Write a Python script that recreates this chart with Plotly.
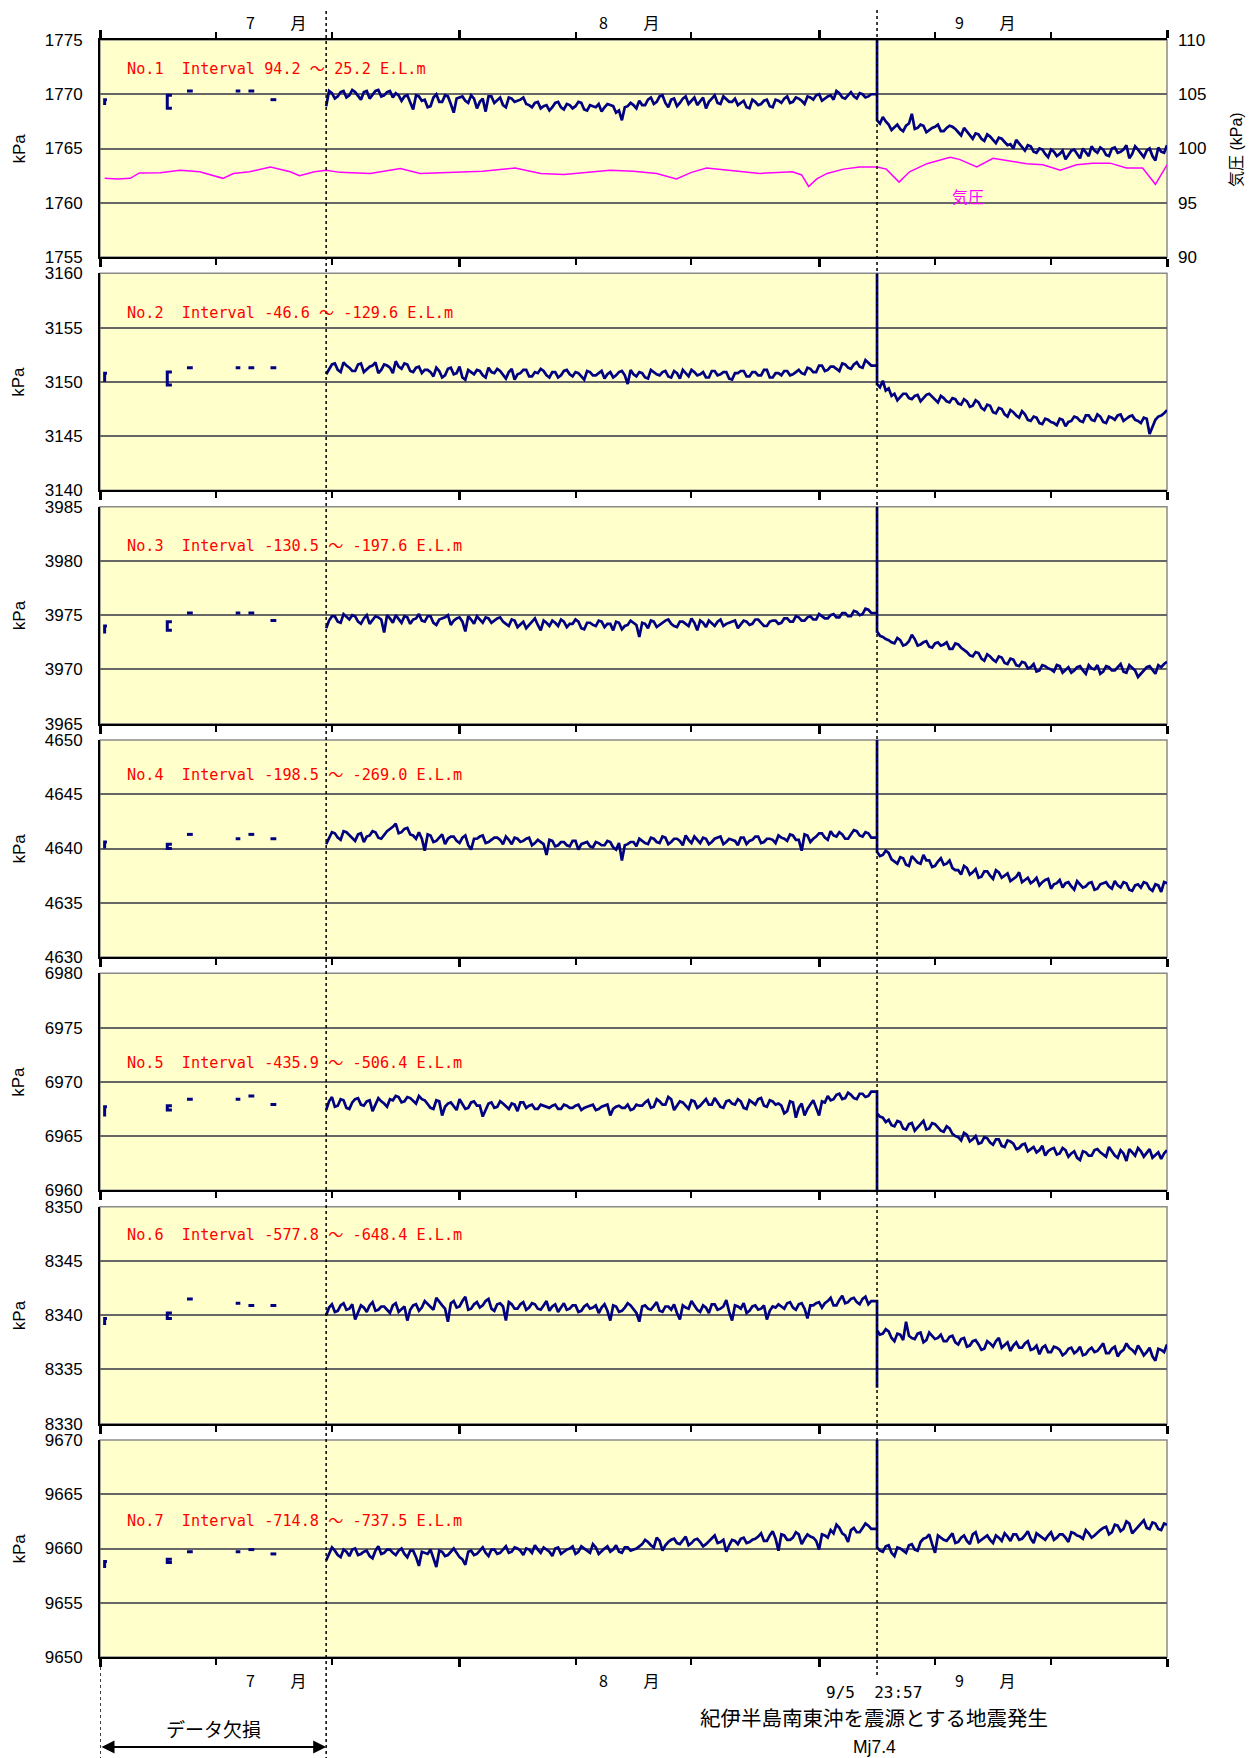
import numpy as np
import pandas as pd
import plotly.graph_objects as go

# ---------------- data ----------------
BASE = pd.Timestamp("2004-07-01")
X_END = "2004-10-01"
GAP_END_DAY = 19.5          # end of missing-data period (days after Jul 1)
QUAKE_DAY = 66.998          # 9/5 23:57
CONT_START, PRE_END = 19.5, 66.5
POST_START, POST_END = 67.0, 92.0
MID_SHIFT = 0.25            # intermediate readings lie between the half-day readings

Y_LO = [1755, 3140, 3965, 4630, 6960, 8330, 9650]
LABELS = [
    "No.1\u00a0\u00a0Interval 94.2 ～ 25.2 E.L.m",
    "No.2\u00a0\u00a0Interval -46.6 ～ -129.6 E.L.m",
    "No.3\u00a0\u00a0Interval -130.5 ～ -197.6 E.L.m",
    "No.4\u00a0\u00a0Interval -198.5 ～ -269.0 E.L.m",
    "No.5\u00a0\u00a0Interval -435.9 ～ -506.4 E.L.m",
    "No.6\u00a0\u00a0Interval -577.8 ～ -648.4 E.L.m",
    "No.7\u00a0\u00a0Interval -714.8 ～ -737.5 E.L.m",
]
LABEL_Y = [1772.3, 3156.3, 3981.4, 4646.8, 6971.7, 8347.4, 9662.5]
SPIKE = [1775, 3160, 3985, 4650, 6960, 8333.3, 9670]

# early isolated records: r-mark (lo, hi), bracket (top, bottom), four short dashes
EARLY = [
    [1769.0, 1769.5, 1769.9, 1768.7, 1770.3, 1770.3, 1770.3, 1769.5],
    [3150.0, 3150.8, 3150.9, 3149.7, 3151.3, 3151.3, 3151.3, 3151.3],
    [3973.3, 3974.0, 3974.4, 3973.6, 3975.2, 3975.2, 3975.2, 3974.5],
    [4640.0, 4640.6, 4640.4, 4640.0, 4641.3, 4640.9, 4641.3, 4640.9],
    [6966.8, 6967.7, 6967.8, 6967.4, 6968.4, 6968.4, 6968.7, 6967.9],
    [8339.1, 8339.7, 8340.2, 8339.7, 8341.5, 8341.1, 8340.9, 8340.9],
    [9658.2, 9658.8, 9659.0, 9658.7, 9659.7, 9659.7, 9659.9, 9659.5],
]
EARLY_R_DAYS = (0.4, 0.6)
EARLY_BR_DAYS = (5.8, 6.2)
EARLY_DASH_DAYS = [(7.5, 8.0), (11.7, 12.1), (12.8, 13.3), (14.7, 15.2)]

# ---- No.1 ----
pre1 = [1768.9, 1770.1, 1769.8, 1770.3, 1769.9, 1770.2, 1769.5, 1770.3, 1770.0, 1770.4, 1769.9, 1770.3, 1770.1,
        1769.4, 1769.9, 1768.6, 1769.8, 1769.5, 1768.9, 1770.0, 1769.3, 1769.8, 1768.3, 1769.7, 1769.4, 1769.9,
        1768.7, 1769.6, 1769.8, 1769.2, 1769.7, 1768.8, 1769.6, 1769.4, 1769.7,
        1769.0, 1769.2, 1768.7, 1769.0, 1768.8, 1769.3, 1768.6, 1769.0, 1768.9, 1769.2, 1768.5, 1768.9, 1769.1,
        1768.8, 1769.0, 1768.3, 1767.6, 1768.9, 1769.0,
        1769.4, 1769.0, 1769.7, 1769.3, 1769.9, 1768.8, 1769.6, 1769.2, 1769.8, 1769.4, 1769.0, 1769.7, 1769.3,
        1769.9, 1769.1, 1769.5, 1769.3,
        1769.0, 1769.4, 1768.7, 1769.3, 1769.1, 1769.5, 1768.8, 1769.4, 1769.6, 1769.2, 1769.7, 1769.4, 1769.8,
        1769.5, 1770.0, 1769.6, 1769.9, 1770.3, 1769.7, 1769.9, 1769.8, 1770.1, 1769.7, 1770.0]
mid1 = [1770.3, 1769.6, 1770.2, 1769.7, 1770.4, 1769.8, 1770.2, 1769.6, 1770.3, 1769.8, 1770.2, 1769.7, 1769.9,
        1769.8, 1769.2, 1769.9, 1769.4, 1768.8, 1769.7, 1769.3, 1769.9, 1769.1, 1769.6, 1769.8, 1769.2, 1769.6,
        1769.3, 1768.4, 1769.8, 1769.5, 1769.0, 1769.7, 1769.3, 1769.5, 1769.1,
        1768.8, 1769.3, 1768.9, 1768.5, 1769.2, 1768.8, 1769.1, 1768.7, 1769.3, 1768.6, 1769.0, 1768.8, 1768.4,
        1769.1, 1768.9, 1768.5, 1768.8, 1769.2, 1768.7,
        1769.0, 1769.5, 1769.1, 1769.8, 1769.2, 1769.5, 1768.9, 1769.6, 1769.1, 1769.7, 1769.3, 1768.7, 1769.6,
        1769.2, 1769.8, 1769.3, 1769.6,
        1769.2, 1768.8, 1769.5, 1769.0, 1769.4, 1768.9, 1769.5, 1769.2, 1769.8, 1769.3, 1769.6, 1769.1, 1769.7,
        1769.9, 1769.4, 1769.8, 1769.5, 1770.1, 1769.6, 1770.2, 1769.6, 1770.0, 1769.8]
post1 = [1767.6, 1767.9, 1767.2, 1767.0, 1766.8, 1767.1, 1768.2, 1766.9, 1767.1, 1766.7, 1767.0, 1766.6, 1766.9,
         1767.0, 1766.5, 1766.9, 1766.2, 1766.4, 1765.9, 1766.3, 1765.8, 1766.0, 1765.6, 1765.4, 1765.8, 1765.1,
         1765.3, 1764.7, 1765.0, 1764.5, 1764.9, 1764.3, 1764.8, 1764.4, 1764.9, 1764.1, 1764.7, 1765.2, 1764.6,
         1764.9, 1764.3, 1765.1, 1764.7, 1765.3, 1764.5, 1764.9, 1764.2, 1765.0, 1763.9, 1764.7, 1765.3]
midp1 = [1767.3, 1767.5, 1766.7, 1767.2, 1766.6, 1767.3, 1766.8, 1767.2, 1766.5, 1766.9, 1767.2, 1766.6, 1767.1,
         1766.8, 1766.2, 1766.6, 1765.9, 1766.3, 1765.7, 1766.1, 1765.5, 1765.9, 1765.3, 1765.0, 1765.5, 1764.8,
         1765.2, 1764.6, 1764.9, 1764.2, 1764.7, 1764.5, 1764.0, 1764.8, 1764.5, 1765.0, 1764.3, 1764.8, 1765.1,
         1764.4, 1765.0, 1764.6, 1764.9, 1764.1, 1765.2, 1764.6, 1764.8, 1764.3, 1765.1, 1764.6]

# ---- No.2 ----
pre2 = [3150.7, 3151.6, 3151.1, 3151.8, 3151.3, 3151.0, 3151.7, 3151.2, 3151.5, 3150.8, 3151.6, 3151.3, 3151.9,
        3151.2, 3151.6, 3150.9, 3151.4, 3151.1,
        3150.9, 3151.3, 3150.4, 3151.2, 3150.7, 3151.4, 3150.2, 3150.9, 3151.1, 3150.6,
        3151.3, 3150.8, 3151.0, 3150.3, 3151.2, 3150.7, 3151.1, 3150.5, 3150.9, 3151.2,
        3150.6, 3150.9, 3150.4, 3151.0, 3150.7, 3150.9, 3150.5, 3151.0, 3150.6, 3150.8,
        3150.3, 3150.9, 3150.6, 3151.0, 3149.8, 3150.7, 3150.9, 3150.4, 3151.1, 3150.7,
        3150.9, 3150.5, 3151.0, 3150.3, 3150.8, 3151.1, 3150.6, 3150.9, 3150.4, 3151.0,
        3150.7, 3150.9, 3150.2, 3150.8, 3151.0, 3150.5, 3150.9, 3150.6, 3151.1, 3150.4,
        3150.8, 3151.0, 3150.6, 3150.9,
        3150.8, 3151.3, 3150.9, 3151.5, 3151.0, 3151.4, 3151.2, 3151.7, 3151.3, 3151.6, 3151.4, 3152.0, 3151.5]
mid2 = [3151.2, 3151.7, 3150.9, 3151.5, 3151.0, 3151.6, 3150.9, 3151.4, 3151.8, 3151.1, 3151.5, 3150.8, 3151.4,
        3151.7, 3151.0, 3151.3, 3150.8,
        3151.1, 3150.5, 3151.0, 3150.6, 3151.3, 3150.8, 3150.4, 3151.1, 3150.7, 3151.0,
        3150.4, 3150.9, 3151.2, 3150.6, 3150.9, 3150.2, 3150.8, 3151.1, 3150.5, 3150.8,
        3151.0, 3150.4, 3150.9, 3150.6, 3151.1, 3150.5, 3150.8, 3150.2, 3150.9, 3150.6,
        3151.0, 3150.7, 3150.4, 3150.9, 3150.6, 3151.1, 3150.5, 3150.8, 3150.3, 3150.9,
        3150.6, 3151.0, 3150.4, 3150.8, 3151.1, 3150.5, 3150.9, 3150.7,
        3150.4, 3151.0, 3150.6, 3150.9, 3150.3, 3150.8, 3151.0, 3150.5, 3150.9, 3150.6, 3151.1, 3150.4, 3150.8,
        3150.6, 3151.0, 3150.7,
        3151.1, 3150.7, 3151.2, 3150.9, 3151.5, 3151.1, 3151.4, 3151.0, 3151.6, 3151.2, 3151.8, 3151.3, 3151.7]
post2 = [3149.8, 3150.1, 3149.4, 3148.9, 3148.6, 3148.9, 3148.4, 3148.8, 3148.5, 3148.9,
         3148.3, 3148.7, 3148.2, 3148.5, 3148.0, 3148.4, 3147.7, 3148.3, 3147.6, 3147.9,
         3147.2, 3147.6, 3147.0, 3147.4, 3146.9, 3147.3, 3146.5, 3146.8, 3146.2, 3146.6,
         3146.3, 3146.0, 3146.5, 3146.3, 3146.8, 3146.4, 3146.9, 3146.5, 3147.0, 3146.3,
         3146.8, 3146.5, 3147.0, 3146.6, 3146.9, 3146.4, 3146.7, 3145.2, 3146.5, 3146.9, 3147.4]
midp2 = [3149.5, 3149.2, 3148.7, 3148.3, 3148.9, 3148.5, 3148.7, 3148.2, 3148.8, 3148.6, 3148.1, 3148.5, 3148.1,
         3148.4, 3147.9, 3148.2, 3147.8, 3148.1, 3147.4, 3147.8, 3147.1, 3147.5, 3146.8, 3147.2, 3146.7, 3147.0,
         3146.4, 3146.7, 3146.1, 3146.5, 3146.2, 3146.6, 3145.9, 3146.4, 3146.7, 3146.3, 3146.9, 3146.4, 3146.8,
         3146.2, 3146.7, 3146.9, 3146.4, 3146.8, 3146.5, 3146.2, 3146.6, 3145.9, 3146.8, 3147.1]

# ---- No.3 ----
pre3 = [3973.8, 3974.9, 3974.4, 3975.1, 3974.6, 3974.9, 3974.2, 3975.0, 3974.5, 3974.8, 3973.4, 3974.7, 3975.0,
        3974.3, 3974.8, 3974.6, 3975.1, 3974.4, 3974.9, 3974.1, 3974.7, 3975.0, 3974.5, 3974.8, 3973.5, 3974.6,
        3974.9, 3974.3, 3974.7, 3974.5, 3974.8,
        3974.2, 3974.6, 3973.9, 3974.4, 3974.1, 3974.7, 3973.6, 3974.3, 3974.5, 3974.0, 3974.4, 3974.2, 3974.6,
        3973.8, 3974.3, 3974.1, 3974.5, 3973.9, 3974.2, 3974.4, 3973.7, 3974.1, 3974.3, 3973.0, 3974.2, 3974.5,
        3973.9, 3974.3, 3974.6, 3974.0, 3974.4, 3974.2, 3974.7, 3973.6, 3974.3, 3974.5, 3974.0, 3974.6, 3974.2,
        3974.4, 3973.8, 3974.5, 3974.1, 3974.6, 3974.3, 3974.0, 3974.5,
        3974.2, 3974.7, 3974.4, 3974.9, 3974.5, 3974.8, 3974.6, 3975.1, 3974.7, 3975.0, 3974.8, 3975.2, 3974.9,
        3975.4, 3975.0, 3975.6, 3975.2]
mid3 = [3974.5, 3974.9, 3974.3, 3974.8, 3975.0, 3974.4, 3974.7, 3974.2, 3974.9, 3974.6, 3975.0, 3974.3, 3974.6,
        3974.9, 3974.2, 3974.7, 3974.5, 3974.9, 3974.3, 3974.6, 3974.8, 3974.1, 3974.7, 3974.4, 3974.9, 3974.2,
        3974.6, 3974.8, 3974.3, 3974.7, 3974.4,
        3974.0, 3974.5, 3974.2, 3973.8, 3974.4, 3974.1, 3974.5, 3974.0, 3974.3, 3974.6, 3973.9, 3974.2, 3974.4,
        3973.7, 3974.3, 3974.0, 3974.4, 3974.2, 3973.6, 3974.3, 3974.0, 3974.5, 3974.1, 3974.3, 3973.8, 3974.4,
        3974.1, 3974.5, 3974.2, 3973.9, 3974.4, 3974.0, 3974.3, 3974.5, 3973.9, 3974.2, 3974.4, 3974.0, 3974.3,
        3974.5, 3974.1, 3974.4, 3974.2, 3974.6, 3974.0, 3974.4,
        3974.5, 3974.3, 3974.7, 3974.4, 3974.8, 3974.5, 3974.9, 3974.6, 3974.9, 3974.7, 3975.1, 3974.8, 3975.2,
        3974.9, 3975.3, 3975.1, 3975.5]
post3 = [3973.5, 3973.0, 3972.7, 3972.4, 3972.7, 3972.3, 3973.2, 3972.2, 3972.5, 3972.1, 3972.4, 3972.2, 3972.5,
         3971.9, 3972.3, 3971.8, 3971.3, 3971.6, 3971.0, 3971.4, 3970.9, 3971.2, 3970.6, 3971.0, 3970.4, 3970.7,
         3970.1, 3970.5, 3969.9, 3970.3, 3970.0, 3970.4, 3969.7, 3970.2, 3969.9, 3970.3, 3969.6, 3970.1, 3970.4,
         3969.8, 3970.2, 3969.9, 3970.5, 3969.7, 3970.1, 3969.3, 3970.0, 3970.3, 3969.6, 3970.2, 3970.7]
midp3 = [3973.1, 3972.8, 3972.5, 3972.9, 3972.2, 3972.6, 3972.8, 3972.3, 3972.6, 3972.0, 3972.5, 3972.3, 3971.9,
         3972.4, 3972.0, 3971.6, 3971.2, 3971.5, 3970.8, 3971.2, 3970.7, 3971.1, 3970.5, 3970.9, 3970.3, 3970.6,
         3970.2, 3969.8, 3970.4, 3970.1, 3969.8, 3970.3, 3970.0, 3969.7, 3970.2, 3969.9, 3970.4, 3970.0, 3969.6,
         3970.3, 3969.9, 3970.2, 3969.8, 3970.4, 3969.9, 3969.6, 3970.2, 3969.9, 3970.4, 3970.5]

# ---- No.4 ----
pre4 = [4640.4, 4641.5, 4641.0, 4641.6, 4641.2, 4640.7, 4641.4, 4641.1, 4641.6, 4641.0,
        4641.3, 4641.8, 4642.3, 4641.5, 4641.9, 4641.2,
        4641.5, 4639.8, 4641.2, 4640.7, 4641.3, 4640.9, 4641.1, 4640.5, 4641.2, 4639.9, 4640.9, 4641.2, 4640.6,
        4641.0, 4640.8, 4641.1, 4640.4, 4640.9, 4640.7, 4641.0, 4640.5,
        4640.6, 4639.4, 4640.7, 4640.3, 4640.6, 4640.2, 4640.7, 4640.4, 4640.6, 4640.1, 4640.5, 4640.3, 4640.6,
        4639.9, 4638.9, 4640.4, 4640.6, 4640.9, 4640.5, 4641.0,
        4640.6, 4641.1, 4640.4, 4640.9, 4640.7, 4641.2, 4640.5, 4640.8, 4641.0, 4640.4, 4640.9, 4641.1, 4640.6,
        4640.8, 4640.3, 4641.0, 4640.7, 4641.1, 4640.5, 4640.9, 4640.8, 4641.2,
        4640.9, 4641.3, 4640.8, 4639.8, 4641.2, 4640.9, 4641.4, 4641.0, 4641.6, 4641.1, 4641.3, 4640.9, 4641.7,
        4641.2, 4641.5, 4641.0]
mid4 = [4641.0, 4641.4, 4640.8, 4641.5, 4640.9, 4641.3, 4640.6, 4641.2, 4641.5, 4640.9,
        4641.6, 4642.0, 4641.4, 4641.8, 4641.3, 4640.9,
        4640.9, 4641.3, 4640.6, 4641.0, 4640.4, 4641.1, 4640.7, 4641.0, 4640.3, 4640.9, 4641.1, 4640.5, 4640.8,
        4641.0, 4640.4, 4640.8, 4641.0, 4640.6, 4640.9, 4640.3, 4640.8,
        4640.4, 4640.8, 4640.2, 4640.6, 4640.3, 4640.7, 4639.9, 4640.5, 4640.2, 4640.6, 4640.3, 4640.7, 4640.1,
        4640.5, 4640.3, 4640.6, 4640.2, 4640.7, 4640.4,
        4640.9, 4640.5, 4641.0, 4640.6, 4640.9, 4640.3, 4640.8, 4641.1, 4640.5, 4640.9, 4640.6, 4641.0, 4640.4,
        4640.9, 4640.7, 4641.0, 4640.4, 4640.8, 4641.1, 4640.6, 4640.9, 4640.5,
        4641.0, 4640.7, 4641.2, 4640.8, 4641.3, 4640.6, 4641.1, 4641.4, 4640.8, 4641.2, 4641.5, 4640.9, 4641.3,
        4641.6, 4641.1, 4641.4]
post4 = [4639.7, 4639.4, 4639.6, 4638.8, 4639.2, 4638.5, 4639.3, 4638.7, 4639.4, 4638.9, 4638.4, 4639.1, 4638.6,
         4638.2, 4638.0, 4638.4, 4637.6, 4638.1, 4637.4, 4637.9, 4637.2, 4637.8, 4637.5, 4637.0, 4637.4, 4636.9,
         4637.3, 4637.0, 4636.6, 4637.1, 4636.3, 4636.8, 4636.4, 4636.9, 4636.2, 4636.7, 4636.5, 4636.9, 4636.3,
         4636.8, 4636.5, 4637.0, 4636.4, 4636.8, 4636.1, 4636.7, 4636.9, 4636.3, 4636.7, 4636.0, 4636.8]
midp4 = [4639.3, 4639.8, 4639.0, 4638.6, 4639.1, 4638.4, 4639.0, 4638.6, 4638.9, 4638.3, 4638.8, 4638.5, 4638.9,
         4638.0, 4637.6, 4638.2, 4637.8, 4637.3, 4637.9, 4637.5, 4638.0, 4637.3, 4637.7, 4637.2, 4637.8, 4637.1,
         4636.8, 4637.3, 4636.9, 4637.2, 4636.7, 4637.1, 4636.8, 4636.5, 4637.0, 4636.4, 4636.8, 4636.2, 4636.7,
         4636.9, 4636.3, 4636.6, 4636.9, 4636.2, 4636.6, 4636.4, 4636.8, 4636.1, 4636.6, 4636.9]

# ---- No.5 ----
pre5 = [6967.4, 6968.6, 6967.8, 6968.3, 6967.5, 6968.4, 6967.9, 6968.2, 6967.3, 6968.5, 6968.0,
        6968.4, 6968.7, 6968.1, 6968.6, 6968.2, 6968.7, 6968.3,
        6967.6, 6968.3, 6966.9, 6968.0, 6967.7, 6968.4, 6967.5, 6968.1, 6967.8, 6966.8, 6968.0, 6967.6, 6968.2,
        6967.7, 6968.0, 6967.3, 6968.1, 6967.8, 6967.5, 6967.9, 6967.7,
        6967.8, 6967.5, 6967.9, 6967.6, 6967.8, 6967.4, 6967.7, 6967.9, 6967.5, 6967.8, 6966.9, 6967.7, 6967.6,
        6967.9, 6967.5, 6967.8,
        6968.1, 6967.6, 6968.4, 6967.9, 6968.6, 6967.4, 6968.2, 6967.8, 6968.3, 6967.6, 6968.1, 6967.9, 6968.5,
        6967.7, 6968.2, 6968.0, 6968.4, 6967.6, 6968.3, 6967.9, 6968.5, 6967.7, 6968.2, 6968.0,
        6967.1, 6968.2, 6966.7, 6968.0, 6967.5, 6968.3, 6966.9, 6968.1,
        6968.3, 6968.8, 6968.4, 6969.0, 6968.5, 6968.9, 6968.6, 6969.1]
mid5 = [6968.2, 6967.7, 6968.4, 6967.6, 6968.1, 6968.5, 6967.8, 6968.3, 6967.9, 6968.2, 6967.7,
        6968.3, 6968.6, 6968.2, 6968.5, 6968.0, 6968.4,
        6968.0, 6967.5, 6968.2, 6967.7, 6968.1, 6967.4, 6968.0, 6967.6, 6968.2, 6967.8, 6967.4, 6968.1, 6967.7,
        6968.0, 6967.5, 6967.9, 6968.1, 6967.6, 6967.9, 6967.5, 6967.8,
        6967.6, 6967.9, 6967.5, 6967.8, 6967.6, 6967.9, 6967.6, 6967.8, 6967.4, 6967.7, 6967.9, 6967.5, 6967.8,
        6967.6, 6967.4, 6967.9,
        6967.8, 6968.3, 6967.7, 6968.2, 6967.9, 6968.4, 6967.8, 6968.1, 6967.5, 6968.2, 6967.8, 6968.4, 6967.9,
        6968.1, 6967.6, 6968.3, 6967.9, 6968.2, 6967.5, 6968.1, 6968.4, 6967.8, 6968.3, 6967.9,
        6967.8, 6967.3, 6968.1, 6967.6, 6966.9, 6967.9, 6967.6, 6968.2,
        6968.7, 6968.4, 6968.9, 6968.5, 6968.8, 6968.4, 6968.9, 6968.7]
post5 = [6967.1, 6966.7, 6966.5, 6965.9, 6966.3, 6965.6, 6966.2, 6965.8, 6966.4, 6965.7, 6966.1, 6965.5, 6965.9,
         6965.2, 6964.9, 6965.3, 6964.5, 6965.0, 6964.4, 6964.8, 6964.2, 6964.7, 6964.0, 6964.5, 6963.8, 6964.2,
         6963.6, 6964.0, 6963.7, 6963.2, 6963.8, 6963.3, 6963.9, 6963.1, 6963.6, 6962.8, 6963.5, 6963.2, 6963.8,
         6963.3, 6964.0, 6963.2, 6963.7, 6962.7, 6963.5, 6963.9, 6963.1, 6963.8, 6963.3, 6962.9, 6963.7]
midp5 = [6966.8, 6966.3, 6966.0, 6966.4, 6965.7, 6966.1, 6965.5, 6966.0, 6965.6, 6966.2, 6965.8, 6965.4, 6965.7,
         6965.0, 6964.6, 6965.1, 6964.7, 6964.3, 6964.9, 6964.4, 6964.7, 6964.1, 6964.6, 6964.3, 6963.9, 6964.3,
         6963.8, 6963.5, 6964.1, 6963.6, 6963.9, 6963.4, 6963.7, 6963.4, 6963.0, 6963.6, 6963.2, 6963.7, 6963.5,
         6963.1, 6963.6, 6963.0, 6963.4, 6963.8, 6963.2, 6963.6, 6963.4, 6963.0, 6963.5, 6963.4]

# ---- No.6 ----
pre6 = [8340.0, 8341.0, 8340.4, 8341.1, 8340.6, 8339.6, 8340.9, 8340.3, 8341.2, 8340.5, 8340.8, 8340.2, 8341.1,
        8340.6, 8339.5, 8340.9, 8340.4,
        8341.3, 8340.7, 8341.6, 8340.9, 8339.4, 8341.3, 8340.8, 8341.7, 8340.6, 8341.2, 8340.9, 8341.5, 8340.4,
        8341.1, 8339.5, 8341.0,
        8340.6, 8341.2, 8340.7, 8341.0, 8340.5, 8341.3, 8340.8, 8340.3, 8341.1, 8340.6, 8340.9, 8340.4, 8341.0,
        8340.7,
        8340.2, 8341.0, 8339.5, 8340.8, 8340.4, 8341.1, 8340.6, 8339.4, 8340.9, 8340.5, 8341.2, 8340.3, 8340.8,
        8341.0, 8339.6, 8340.7, 8341.3, 8340.5, 8340.9, 8340.2, 8341.0, 8340.6, 8341.4, 8339.5, 8340.8, 8341.1,
        8340.4, 8340.9, 8340.6, 8339.6, 8340.8,
        8341.0, 8340.6, 8341.2, 8340.5, 8341.1, 8339.7, 8340.9, 8341.2,
        8341.1, 8341.6, 8340.9, 8341.8, 8341.2, 8341.6, 8341.0, 8341.7, 8341.3]
mid6 = [8340.7, 8340.3, 8340.9, 8340.5, 8341.0, 8340.2, 8340.7, 8340.9, 8340.4, 8340.8, 8340.5, 8340.9, 8340.3,
        8340.8, 8340.5, 8341.0, 8340.7,
        8341.0, 8340.5, 8341.2, 8340.6, 8341.1, 8340.7, 8341.3, 8340.5, 8341.0, 8340.7, 8341.3, 8340.6, 8341.0,
        8340.8, 8341.2, 8340.6,
        8341.0, 8340.5, 8341.1, 8340.6, 8340.9, 8340.4, 8341.0, 8340.7, 8340.5, 8340.9, 8340.3, 8340.8, 8340.6,
        8340.9,
        8340.7, 8340.4, 8340.9, 8340.3, 8340.7, 8340.9, 8340.2, 8340.8, 8340.6, 8340.9, 8340.4, 8340.8, 8340.5,
        8340.2, 8340.9, 8340.6, 8340.9, 8340.3, 8340.7, 8341.0, 8340.5, 8340.8, 8340.3, 8340.9, 8340.6, 8340.2,
        8340.8, 8340.5, 8340.9, 8340.4, 8340.7,
        8340.8, 8341.1, 8340.7, 8341.0, 8340.6, 8340.9, 8341.1, 8340.7,
        8341.3, 8340.9, 8341.4, 8341.1, 8341.5, 8341.2, 8341.5, 8341.0]
post6 = [8338.6, 8338.3, 8338.5, 8337.6, 8338.2, 8339.4, 8337.9, 8338.3, 8337.5, 8338.4, 8337.8, 8338.2, 8337.6,
         8338.1, 8337.3, 8337.9, 8337.2, 8337.7, 8336.8, 8337.6, 8337.1, 8337.9, 8337.3, 8336.7, 8337.5, 8337.0,
         8337.6, 8336.9, 8336.4, 8337.2, 8336.6, 8337.0, 8336.3, 8336.9, 8336.5, 8337.1, 8336.4, 8337.0, 8336.7,
         8337.4, 8336.5, 8337.1, 8336.6, 8337.4, 8336.8, 8337.2, 8336.3, 8337.0, 8335.8, 8336.8, 8337.3]
midp6 = [8338.2, 8338.7, 8337.9, 8338.3, 8337.7, 8338.1, 8337.8, 8338.4, 8337.7, 8338.1, 8337.9, 8337.6, 8338.0,
         8337.5, 8337.8, 8337.1, 8337.6, 8337.3, 8336.9, 8337.4, 8337.6, 8337.0, 8337.5, 8337.2, 8337.0, 8337.4,
         8336.8, 8337.2, 8337.0, 8336.6, 8337.1, 8336.8, 8336.5, 8337.0, 8336.7, 8336.3, 8336.8, 8336.6, 8337.0,
         8336.5, 8336.9, 8336.2, 8336.8, 8337.0, 8336.5, 8336.8, 8336.6, 8336.2, 8336.9, 8336.6]

# ---- No.7 ----
pre7 = [9658.9, 9660.1, 9659.4, 9659.9, 9659.3, 9660.0, 9659.5, 9659.8, 9659.1, 9660.2, 9659.6, 9659.9, 9659.4,
        9660.0, 9659.2, 9659.8, 9658.4, 9659.6, 9659.9, 9658.3, 9659.7, 9659.4, 9660.0, 9659.2, 9658.5, 9659.8,
        9659.5, 9660.1, 9659.3, 9659.9,
        9659.6, 9660.2, 9659.7, 9660.0, 9659.4, 9659.9, 9660.3, 9659.6, 9659.9, 9659.3, 9660.1, 9659.7, 9660.0,
        9659.5, 9660.2, 9659.8, 9660.4, 9659.5, 9660.0, 9659.7, 9660.3, 9659.6, 9660.1, 9659.9,
        9660.2, 9660.8, 9660.3, 9661.0, 9659.8, 9660.6, 9660.9, 9660.4, 9661.1, 9660.5, 9660.9, 9660.2, 9660.7,
        9661.2, 9660.6, 9659.7, 9660.8, 9660.4, 9661.0, 9660.6,
        9660.9, 9661.4, 9660.7, 9661.6, 9659.8, 9661.2, 9660.8, 9661.5, 9660.4, 9661.3, 9661.0, 9659.9, 9661.2,
        9661.7, 9662.2, 9661.4, 9660.6, 9661.9, 9661.5, 9662.3, 9661.8]
mid7 = [9659.5, 9659.8, 9659.2, 9659.7, 9659.9, 9659.4, 9659.7, 9659.3, 9659.8, 9659.5, 9659.9, 9659.6, 9659.8,
        9659.5, 9659.8, 9659.2, 9659.7, 9659.5, 9659.0, 9659.8, 9659.3, 9659.7, 9659.6, 9659.0, 9659.7, 9659.4,
        9659.8, 9659.6, 9659.9, 9659.5,
        9659.9, 9659.6, 9660.1, 9659.8, 9660.0, 9659.6, 9659.9, 9660.1, 9659.7, 9660.0, 9659.5, 9659.9, 9660.2,
        9659.7, 9660.0, 9659.6, 9660.1, 9659.8, 9660.2, 9659.9, 9659.7, 9660.1, 9659.8, 9660.0,
        9660.4, 9660.6, 9660.1, 9660.7, 9660.3, 9660.8, 9660.5, 9660.7, 9660.3, 9660.8, 9660.6, 9660.4, 9660.9,
        9660.5, 9660.8, 9660.3, 9660.7, 9660.9, 9660.5, 9660.8,
        9661.1, 9660.7, 9661.2, 9660.9, 9661.3, 9660.8, 9661.0, 9661.3, 9660.9, 9661.1, 9660.7, 9661.3, 9661.0,
        9661.4, 9661.9, 9661.2, 9661.7, 9661.5, 9661.9, 9662.1]
post7 = [9660.1, 9659.7, 9660.3, 9659.3, 9660.0, 9659.6, 9660.4, 9659.8, 9660.9, 9661.3, 9659.6, 9661.0, 9660.7,
         9661.4, 9660.6, 9661.2, 9660.4, 9661.5, 9660.8, 9661.2, 9660.5, 9661.0, 9661.4, 9660.7, 9661.3, 9660.9,
         9661.6, 9660.5, 9661.2, 9660.8, 9661.5, 9661.0, 9661.3, 9660.6, 9661.4, 9661.1, 9661.7, 9661.0, 9661.5,
         9661.9, 9661.3, 9662.2, 9661.6, 9662.5, 9661.4, 9662.0, 9662.6, 9661.8, 9662.3, 9661.7, 9662.2]
midp7 = [9659.8, 9660.2, 9659.6, 9660.1, 9659.8, 9660.3, 9659.9, 9660.6, 9661.0, 9660.4, 9661.2, 9660.8, 9661.1,
         9660.5, 9661.0, 9660.7, 9661.3, 9660.6, 9661.0, 9660.8, 9661.2, 9660.7, 9661.1, 9661.3, 9660.8, 9661.2,
         9660.9, 9661.4, 9661.0, 9661.2, 9660.8, 9661.3, 9661.0, 9661.5, 9661.2, 9660.9, 9661.4, 9661.2, 9661.7,
         9662.0, 9661.5, 9662.1, 9661.8, 9662.3, 9661.7, 9662.2, 9661.9, 9662.4, 9661.8, 9662.3]

PRE = [pre1, pre2, pre3, pre4, pre5, pre6, pre7]
MID = [mid1, mid2, mid3, mid4, mid5, mid6, mid7]
POST = [post1, post2, post3, post4, post5, post6, post7]
MIDP = [midp1, midp2, midp3, midp4, midp5, midp6, midp7]

# atmospheric pressure (kPa), right axis of panel 1
P_DAYS = [0.4, 1.5, 2.6, 3.4, 5.2, 6.9, 8.6, 9.7, 10.6, 11.5, 12.9, 14.7, 16.4, 17.2, 18.5, 19.5, 20.7, 23.3,
          25.9, 27.6, 31.0, 33.0, 35.8, 38.0, 40.0, 42.0, 44.0, 46.0, 48.0, 49.7, 51.0, 52.3, 54.0, 56.9, 59.7,
          60.5, 61.1, 61.8, 62.7, 64.1, 65.5, 67.0, 67.8, 68.9, 69.8, 71.3, 73.3, 74.1, 75.6, 77.0, 78.7, 79.9,
          81.3, 82.8, 84.2, 85.6, 87.1, 88.5, 89.9, 91.0, 92.0]
P_VALS = [97.25, 97.2, 97.25, 97.75, 97.77, 98.0, 97.85, 97.5, 97.25, 97.7, 97.85, 98.3, 97.85, 97.5, 97.85, 98.0,
          97.8, 97.7, 98.15, 97.7, 97.85, 97.9, 98.2, 97.7, 97.6, 97.8, 98.0, 97.9, 97.7, 97.2, 97.8, 98.2, 98.0,
          97.7, 97.86, 97.56, 96.5, 97.2, 97.7, 98.1, 98.3, 98.3, 98.1, 96.9, 97.85, 98.6, 99.2, 99.0, 98.3, 99.1,
          98.8, 98.6, 98.5, 98.0, 98.5, 98.65, 98.65, 98.2, 98.2, 96.7, 98.5]

MONTH_STARTS = ["2004-07-01", "2004-08-01", "2004-09-01", "2004-10-01"]
MINOR_TICKS = ["2004-07-11", "2004-07-21", "2004-08-11", "2004-08-21", "2004-09-11", "2004-09-21"]
MONTH_LABEL_DAYS = [15.2, 45.6, 76.3]
MONTH_LABELS = ["7\u3000\u3000 月", "8\u3000\u3000 月", "9\u3000\u3000 月"]

# ---------------- helpers ----------------
NAVY = "#000080"


def to_dt(d):
    return BASE + pd.to_timedelta(d, unit="D")


def dstr(d):
    return to_dt(d).strftime("%Y-%m-%d %H:%M:%S")


def merged(t0, t1, main, mid):
    ta = np.linspace(t0, t1, len(main))
    tb = np.linspace(t0 + MID_SHIFT, t1 - MID_SHIFT, len(mid))
    t = np.concatenate([ta, tb])
    v = np.concatenate([np.asarray(main, float), np.asarray(mid, float)])
    order = np.argsort(t, kind="stable")
    return list(t[order]), list(v[order])


W, H = 1257, 1758
OFF = 8                      # page body margin
PL, PT, PR, PB = 100, 40, 1167, 1657   # plot area in page pixels
ML, MT = PL - OFF, PT - OFF
MR = (W + OFF) - PR
MB = (H + OFF) - PB
PLOT_H = PB - PT
PLOT_W = PR - PL
PANEL_H = 217
PITCH = (PLOT_H - PANEL_H) / 6


def ypaper(Y):
    return (PB - Y) / PLOT_H


def xpaper(X):
    return (X - PL) / PLOT_W


fig = go.Figure()
layout = {}
shapes = []
annotations = []
TICKFONT = dict(family="Liberation Sans, Arial, sans-serif", size=17, color="black")
JP = "Noto Sans CJK JP, sans-serif"


def ann(**kw):
    kw.setdefault("showarrow", False)
    kw.setdefault("xanchor", "center")
    kw.setdefault("yanchor", "middle")
    annotations.append(kw)


for i in range(7):
    xa = "x" if i == 0 else f"x{i + 1}"
    ya = "y" if i == 0 else f"y{i + 1}"
    tp, vp = merged(CONT_START, PRE_END, PRE[i], MID[i])
    tq, vq = merged(POST_START, POST_END, POST[i], MIDP[i])
    # the last pre-quake reading holds until 23:57, then the spike, then the post-quake readings
    days = tp + [QUAKE_DAY - 0.001, QUAKE_DAY, QUAKE_DAY + 0.001] + tq
    vals = vp + [vp[-1], SPIKE[i], vq[0]] + vq
    fig.add_trace(go.Scatter(x=to_dt(np.array(days)), y=vals, mode="lines",
                             line=dict(color=NAVY, width=2.7),
                             xaxis=xa, yaxis=ya, hoverinfo="skip", showlegend=False))
    e = EARLY[i]
    ex, ey = [], []
    ex += [EARLY_R_DAYS[0], EARLY_R_DAYS[0], EARLY_R_DAYS[1], None]
    ey += [e[0], e[1], e[1], None]
    ex += [EARLY_BR_DAYS[1], EARLY_BR_DAYS[0], EARLY_BR_DAYS[0], EARLY_BR_DAYS[1], None]
    ey += [e[2], e[2], e[3], e[3], None]
    for k, (a, b) in enumerate(EARLY_DASH_DAYS):
        ex += [a, b, None]
        ey += [e[4 + k], e[4 + k], None]
    exd = [dstr(v) if v is not None else None for v in ex]
    fig.add_trace(go.Scatter(x=exd, y=ey, mode="lines", connectgaps=False,
                             line=dict(color=NAVY, width=3),
                             xaxis=xa, yaxis=ya, hoverinfo="skip", showlegend=False))

    top = PT + i * PITCH
    dom = [ypaper(top + PANEL_H), ypaper(top)]
    xkey = "xaxis" if i == 0 else f"xaxis{i + 1}"
    ykey = "yaxis" if i == 0 else f"yaxis{i + 1}"
    xdict = dict(domain=[0, 1], anchor=ya, type="date", range=[str(BASE.date()), X_END],
                 showgrid=False, zeroline=False, tickmode="array", tickvals=MONTH_STARTS,
                 ticktext=[""] * 4, showticklabels=False, ticks="outside", ticklen=8, tickwidth=3,
                 tickcolor="black",
                 minor=dict(tickmode="array", tickvals=MINOR_TICKS, ticks="outside", ticklen=6,
                            tickwidth=1.5, tickcolor="black", showgrid=False),
                 showline=True, linecolor="black", linewidth=2,
                 mirror="ticks" if i == 0 else False)
    if i > 0:
        xdict["matches"] = "x"
    layout[xkey] = xdict
    lo = Y_LO[i]
    layout[ykey] = dict(domain=dom, anchor=xa, range=[lo, lo + 20], tickmode="linear", tick0=lo,
                        dtick=5, tickformat="d", showgrid=True, gridcolor="#666666", gridwidth=1.5,
                        zeroline=False, showline=True, linecolor="black", linewidth=2, ticks="",
                        tickfont=TICKFONT, ticklabelstandoff=12)
    shapes.append(dict(type="rect", xref=f"{xa} domain", yref=f"{ya} domain", x0=0, x1=1, y0=0, y1=1,
                       line=dict(color="#8a8a8a", width=1.5), layer="below"))
    ann(text="kPa", xref="paper", yref="paper", x=xpaper(19), y=(dom[0] + dom[1]) / 2,
        textangle=-90, font=TICKFONT)
    ann(text=LABELS[i], xref=xa, yref=ya, x=dstr(2.15), y=LABEL_Y[i], xanchor="left",
        font=dict(family="DejaVu Sans Mono, Noto Sans CJK JP, monospace", size=15.2, color="#FF0000"))

# pressure on right axis
fig.add_trace(go.Scatter(x=to_dt(np.array(P_DAYS)), y=P_VALS, mode="lines",
                         line=dict(color="#FF00FF", width=1.5), xaxis="x", yaxis="y8",
                         hoverinfo="skip", showlegend=False))
layout["yaxis8"] = dict(overlaying="y", side="right", anchor="x", range=[90, 110], tickmode="linear",
                        tick0=90, dtick=5, tickformat="d", showgrid=False, zeroline=False,
                        showline=False, ticks="", tickfont=TICKFONT, ticklabelstandoff=10)
ann(text="気圧\u00a0(kPa)", xref="paper", yref="paper", x=xpaper(1237), y=ypaper(150), textangle=-90,
    font=dict(family="Liberation Sans, Noto Sans CJK JP, sans-serif", size=16, color="black"))
ann(text="気圧", xref="x", yref="y8", x=dstr(74.8), y=95.6,
    font=dict(family=JP, size=16, color="#FF00FF"))

# month labels top & bottom
for d, t in zip(MONTH_LABEL_DAYS, MONTH_LABELS):
    for Y in (22, 1680):
        ann(text=t, xref="x", yref="paper", x=dstr(d), y=ypaper(Y),
            font=dict(family=JP, size=16, color="black"))

# event lines
shapes.append(dict(type="line", xref="x", yref="paper", x0=dstr(GAP_END_DAY), x1=dstr(GAP_END_DAY),
                   y0=ypaper(H + OFF), y1=ypaper(7), line=dict(color="black", width=1.5, dash="dot"),
                   layer="above"))
shapes.append(dict(type="line", xref="x", yref="paper", x0=dstr(QUAKE_DAY), x1=dstr(QUAKE_DAY),
                   y0=ypaper(1675), y1=ypaper(7), line=dict(color="black", width=1.5, dash="dot"),
                   layer="above"))
shapes.append(dict(type="line", xref="x", yref="paper", x0=dstr(0), x1=dstr(0),
                   y0=ypaper(H + OFF), y1=ypaper(PB), line=dict(color="black", width=1.5, dash="dot"),
                   layer="above"))

# quake text
QX = dstr(QUAKE_DAY - 0.25)
ann(text="9/5\u00a0\u00a023:57", xref="x", yref="paper", x=QX, y=ypaper(1692),
    font=dict(family="DejaVu Sans Mono, monospace", size=16, color="black"))
ann(text="紀伊半島南東沖を震源とする地震発生", xref="x", yref="paper", x=QX, y=ypaper(1717),
    font=dict(family=JP, size=20.5, color="black"))
ann(text="Mj7.4", xref="x", yref="paper", x=QX, y=ypaper(1747),
    font=dict(family="Liberation Sans, Arial, sans-serif", size=17.5, color="black"))

# data gap
ann(text="データ欠損", xref="paper", yref="paper", x=xpaper(213), y=ypaper(1729),
    font=dict(family=JP, size=19, color="black"))
annotations.append(dict(text="", xref="x7", yref="paper", x=dstr(GAP_END_DAY), y=ypaper(1747),
                        axref="x7", ayref="pixel", ax=dstr(0), ay=0, showarrow=True, arrowhead=2,
                        arrowside="end+start", arrowsize=1.3, arrowwidth=2, arrowcolor="black",
                        standoff=0, startstandoff=0))

fig.update_layout(width=W, height=H, margin=dict(l=ML, r=MR, t=MT, b=MB),
                  paper_bgcolor="white", plot_bgcolor="#FFFFCC", showlegend=False,
                  shapes=shapes, annotations=annotations, **layout)

fig.write_html("out.html")
